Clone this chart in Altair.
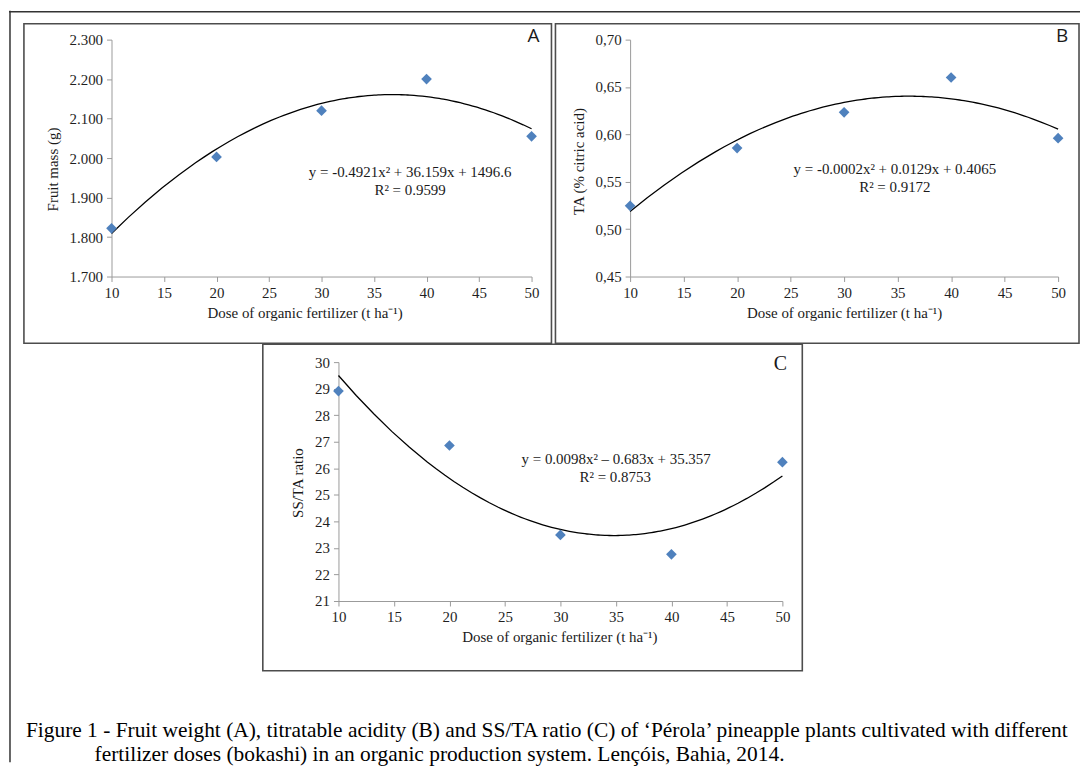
import altair as alt
import pandas as pd

# ---------------- data ----------------
doses = [10, 20, 30, 40, 50]
fruit_mass = [1822, 2003, 2120, 2200, 2055]
titratable_acidity = [0.5246, 0.5855, 0.6233, 0.660, 0.596]
ss_ta_ratio = [28.91, 26.86, 23.49, 22.76, 26.23]

dose_ticks = [10, 15, 20, 25, 30, 35, 40, 45, 50]
mass_ticks = [1700, 1800, 1900, 2000, 2100, 2200, 2300]
ta_ticks = [0.45, 0.50, 0.55, 0.60, 0.65, 0.70]
ratio_ticks = [21, 22, 23, 24, 25, 26, 27, 28, 29, 30]

x_title = "Dose of organic fertilizer (t ha⁻¹)"
y_title_a = "Fruit mass (g)"
y_title_b = "TA (% citric acid)"
y_title_c = "SS/TA ratio"
eq_a = "y = -0.4921x² + 36.159x + 1496.6"
r2_a = "R² = 0.9599"
eq_b = "y = -0.0002x² + 0.0129x + 0.4065"
r2_b = "R² = 0.9172"
eq_c = "y = 0.0098x² – 0.683x + 35.357"
r2_c = "R² = 0.8753"
caption_1 = ("Figure 1 - Fruit weight (A), titratable acidity (B) and SS/TA ratio (C) of "
             "‘Pérola’ pineapple plants cultivated with different")
caption_2 = "fertilizer doses (bokashi) in an organic production system. Lençóis, Bahia, 2014."

# ---------------- layout ----------------
W, H = 1076, 755
SERIF = "Liberation Serif"
SANS = "Open Sans"
BLUE = "#4F81BD"
BORDER = "#4d4d4d"
AXIS_GRAY = "#9a9a9a"

axis_style = dict(
    grid=False,
    labelFont=SERIF, labelFontSize=15, labelColor="#1f1f1f",
    titleFont=SERIF, titleFontSize=15, titleFontWeight="normal", titleColor="#1a1a1a",
    domainColor=AXIS_GRAY, tickColor=AXIS_GRAY, tickSize=5,
    labelPadding=4, labelFlush=False, labelOverlap=False,
)


def panel(values, ydom, yticks, label_expr, xr, yr, ytitle, title_x, title_y):
    df = pd.DataFrame({"dose": doses, "val": values})
    xs = alt.Scale(domain=[10, 50], range=xr, nice=False, zero=False)
    ys = alt.Scale(domain=ydom, range=yr, nice=False, zero=False)
    xenc = alt.X("dose:Q", scale=xs,
                 axis=alt.Axis(values=dose_ticks, title=x_title, orient="bottom",
                               offset=yr[0] - H, titleX=title_x, format="d",
                               titlePadding=5, **axis_style))
    yenc = alt.Y("val:Q", scale=ys,
                 axis=alt.Axis(values=yticks, title=ytitle, orient="left",
                               offset=-xr[0], titleY=title_y, labelExpr=label_expr,
                               titlePadding=9, **axis_style))
    base = alt.Chart(df)
    curve = base.transform_regression(
        "dose", "val", method="poly", order=2, extent=[10, 50]
    ).mark_line(color="black", strokeWidth=1.3).encode(x=xenc, y=yenc)
    pts = base.mark_point(shape="diamond", filled=True, size=115, color=BLUE,
                          opacity=1).encode(x=xenc, y=yenc)
    return alt.layer(curve, pts)


pa = panel(fruit_mass, [1700, 2300], mass_ticks,
           "replace(format(datum.value, ',.0f'), ',', '.')",
           [103, 525], [267, 29], y_title_a, 297, 159)
pb = panel(titratable_acidity, [0.45, 0.70], ta_ticks,
           "replace(format(datum.value, '.2f'), '.', ',')",
           [624, 1054], [267, 29], y_title_b, 839, 151)
pc = panel(ss_ta_ratio, [21, 30], ratio_ticks,
           "format(datum.value, 'd')",
           [331, 777], [593, 353], y_title_c, 553, 474)

one = alt.Data(values=[{}])


def box(x, x2, y, y2):
    return alt.Chart(one).mark_rect(fillOpacity=0, stroke=BORDER, strokeWidth=1.6).encode(
        x=alt.value(x), x2=alt.value(x2), y=alt.value(y), y2=alt.value(y2))


def txt(s, x, y, size=15, font=SERIF, align="center", color="#1a1a1a"):
    return alt.Chart(one).mark_text(font=font, fontSize=size, align=align,
                                    baseline="middle", color=color).encode(
        x=alt.value(x), y=alt.value(y), text=alt.value(s))


outer_left = alt.Chart(one).mark_rule(color="#333333", strokeWidth=1.5).encode(
    x=alt.value(1), y=alt.value(0), y2=alt.value(H))
outer_top = alt.Chart(one).mark_rule(color="#333333", strokeWidth=1.5).encode(
    x=alt.value(0), x2=alt.value(W), y=alt.value(1))

decor = [
    outer_left, outer_top,
    box(15, 545, 13, 334), box(549, 1075, 13, 334), box(255, 797, 335, 663),
    txt("A", 527, 25, size=19, font=SANS),
    txt("B", 1058, 25, size=19, font=SANS),
    txt("C", 775, 355, size=20, font=SERIF),
    txt(eq_a, 403, 162), txt(r2_a, 403, 180),
    txt(eq_b, 890, 159), txt(r2_b, 890, 177),
    txt(eq_c, 610, 450), txt(r2_c, 609, 468),
    txt(caption_1, 17, 724, size=21.5, align="left", color="black"),
    txt(caption_2, 86, 748, size=21.5, align="left", color="black"),
]

chart = alt.layer(*decor, pa, pb, pc).resolve_scale(
    x="independent", y="independent"
).resolve_axis(
    x="independent", y="independent"
).properties(
    width=W, height=H, padding=0
).configure_view(
    stroke=None
)

chart.save("out.html", embed_options={"renderer": "svg", "actions": False})
